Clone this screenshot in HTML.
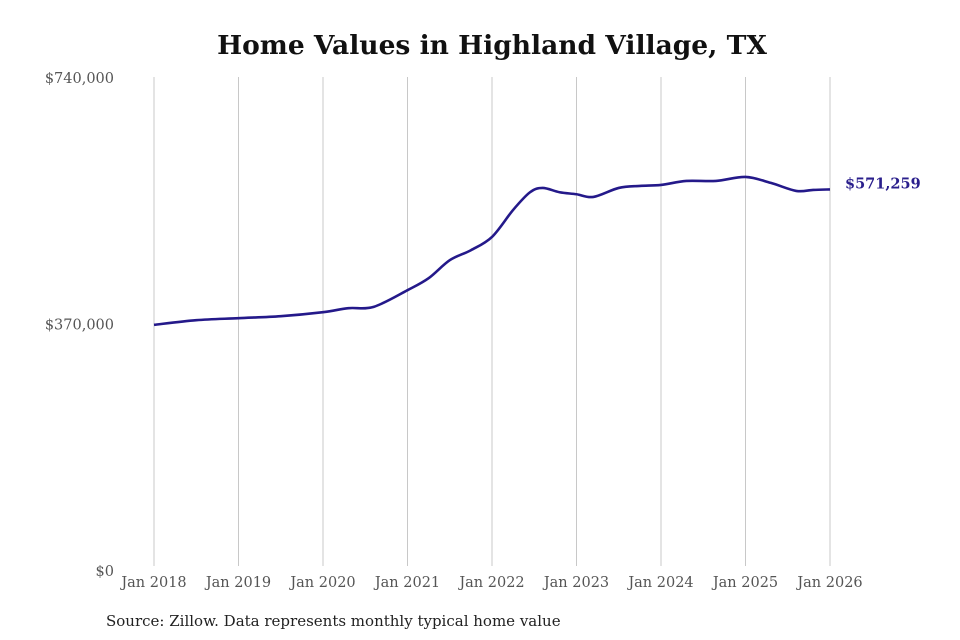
<!DOCTYPE html>
<html><head><meta charset="utf-8"><style>
html,body{margin:0;padding:0;background:#fff;width:960px;height:640px;overflow:hidden}
svg{display:block}
</style></head><body>
<svg id="chart" width="960" height="640">
<text x="492" y="54" text-anchor="middle" font-family="'DejaVu Serif','Liberation Serif',serif" font-weight="bold" font-size="26.5" fill="#111">Home Values in Highland Village, TX</text>
<g id="grid"></g>
<g id="yaxis"></g>
<g id="xaxis"></g>
<g id="series"></g>
<text x="106" y="626" font-family="'DejaVu Serif','Liberation Serif',serif" font-size="15" fill="#222">Source: Zillow. Data represents monthly typical home value</text>
</svg>
<script>
const xTickYears=[2018,2019,2020,2021,2022,2023,2024,2025,2026];
const yTicks=[0,370000,740000];
const yTickLabels=["$0","$370,000","$740,000"];
const dates=[2018.0,2018.5,2019.0,2019.5,2020.0,2020.3,2020.6,2021.0,2021.25,2021.5,2021.75,2022.0,2022.25,2022.45,2022.6,2022.8,2023.0,2023.2,2023.5,2023.75,2024.0,2024.3,2024.65,2025.0,2025.3,2025.6,2025.8,2026.0];
const values=[368000,375000,378000,381000,387000,393000,395000,420000,438000,465000,480000,500000,540500,567000,573500,567000,564000,560000,573500,576500,578000,584000,584000,590000,581000,569000,570500,571259];
const lastLabel="$571,259";

const NS="http://www.w3.org/2000/svg";
const X0=154,X1=830,Y0=570,Y1=77;
function xs(t){return X0+(t-2018)/(2026-2018)*(X1-X0);}
function ys(v){return Y0-v/740000*(Y0-Y1);}
function mk(tag,attrs,parent){const e=document.createElementNS(NS,tag);for(const k in attrs)e.setAttribute(k,attrs[k]);parent.appendChild(e);return e;}
const grid=document.getElementById('grid'),xa=document.getElementById('xaxis'),ya=document.getElementById('yaxis'),ser=document.getElementById('series');
xTickYears.forEach(y=>{
  const l=mk('line',{x1:xs(y),x2:xs(y),y1:Y1,y2:Y0-4,stroke:'#c8c8c8','stroke-width':1},grid);
  
  
  const t=mk('text',{x:xs(y),y:587,'text-anchor':'middle','font-family':"'DejaVu Serif','Liberation Serif',serif",'font-size':14.5,fill:'#555'},xa);
  t.textContent='Jan '+y;
  
  
});
yTicks.forEach((v,i)=>{
  const t=mk('text',{x:114,y:ys(v)+6,'text-anchor':'end','font-family':"'DejaVu Serif','Liberation Serif',serif",'font-size':14.5,fill:'#555'},ya);
  t.textContent=yTickLabels[i];
  
  
});
const pts=dates.map((d,i)=>[xs(d),ys(values[i])]);
let d='M'+pts[0][0]+','+pts[0][1];
for(let i=0;i<pts.length-1;i++){
  const p0=pts[Math.max(0,i-1)],p1=pts[i],p2=pts[i+1],p3=pts[Math.min(pts.length-1,i+2)];
  const c1=[p1[0]+(p2[0]-p0[0])/6,p1[1]+(p2[1]-p0[1])/6];
  const c2=[p2[0]-(p3[0]-p1[0])/6,p2[1]-(p3[1]-p1[1])/6];
  d+=' C'+c1[0]+','+c1[1]+' '+c2[0]+','+c2[1]+' '+p2[0]+','+p2[1];
}
const path=mk('path',{d:d,fill:'none',stroke:'#24198a','stroke-width':2.6,'stroke-linejoin':'round'},ser);


const lp=pts[pts.length-1];
const lab=mk('text',{x:lp[0]+15,y:lp[1]-1,'font-family':"'DejaVu Serif','Liberation Serif',serif",'font-weight':'bold','font-size':14.5,fill:'#2a1f8c'},ser);
lab.textContent=lastLabel;


</script>
</body></html>
